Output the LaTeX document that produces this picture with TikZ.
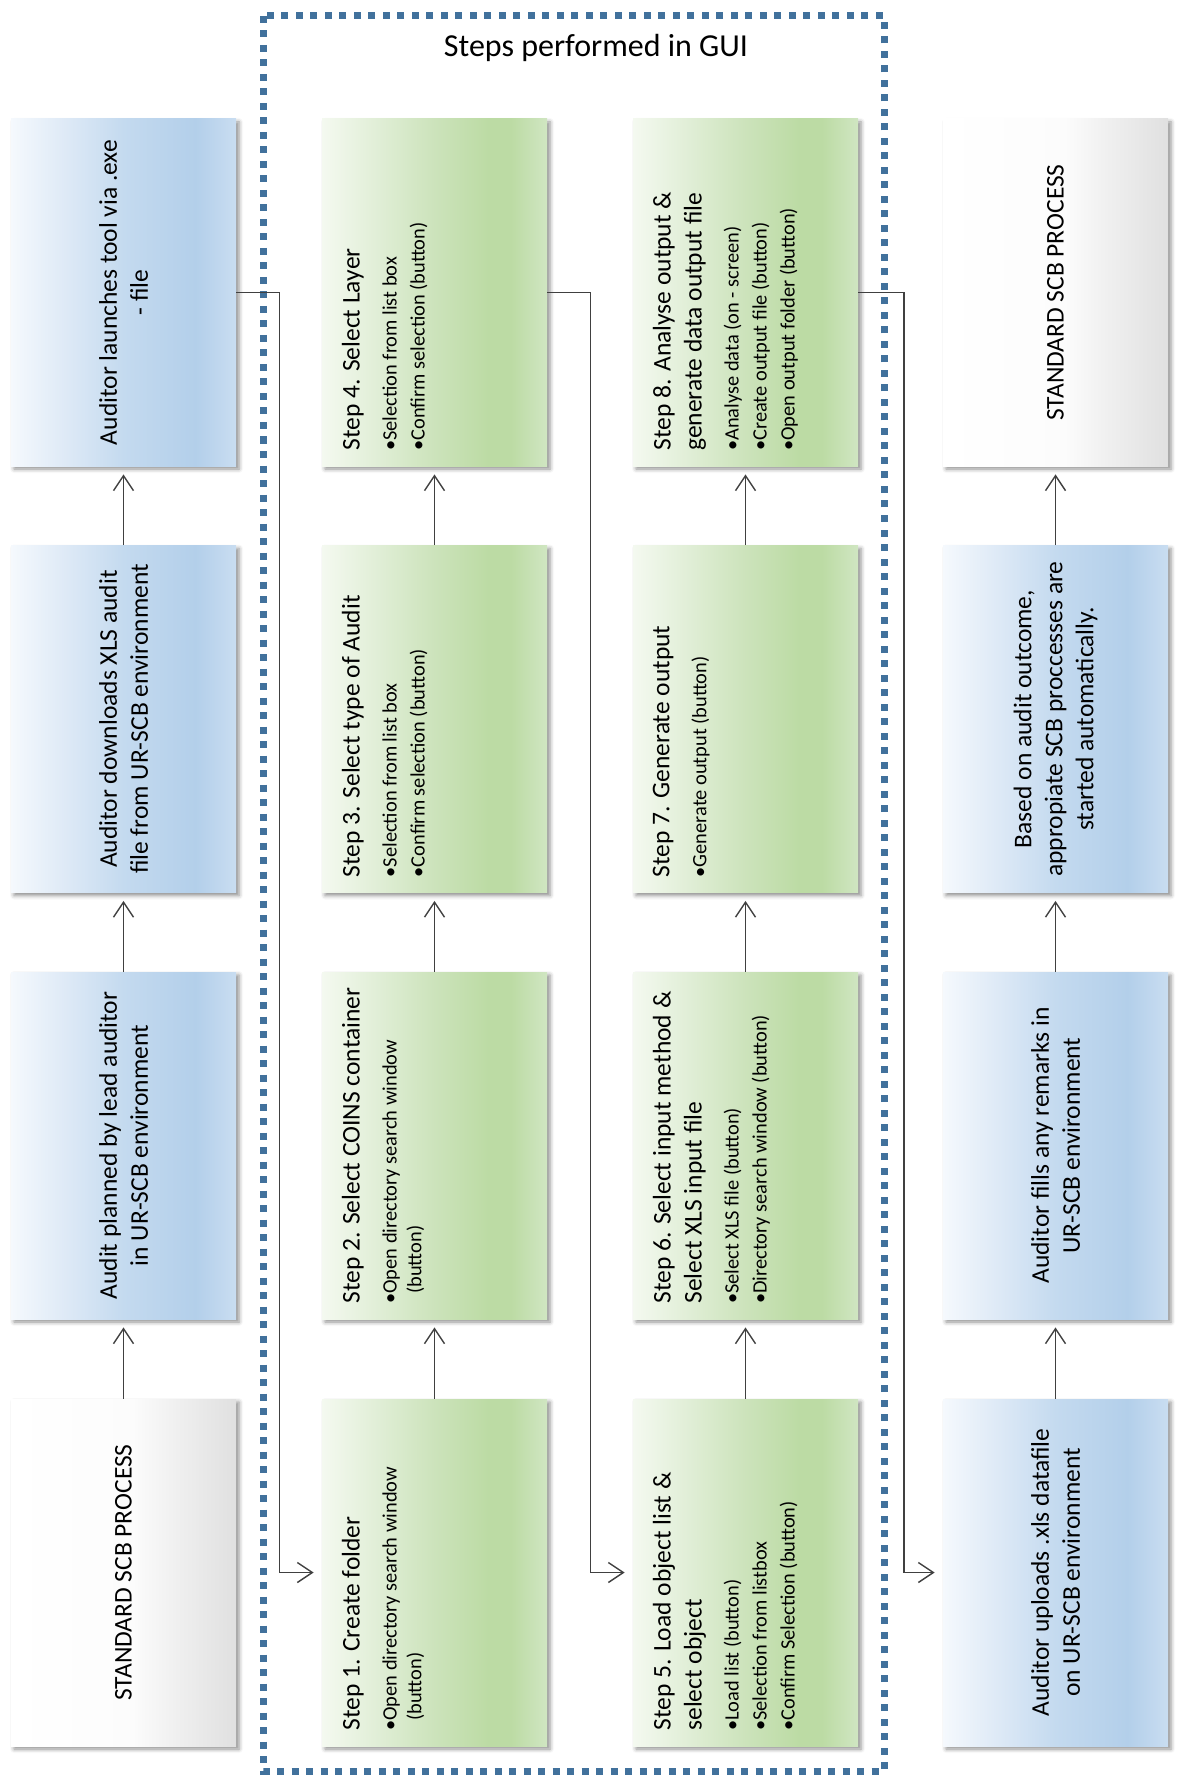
\documentclass[tikz,border=0pt]{standalone}
\usepackage{fontspec}
\setmainfont{Carlito}
\usetikzlibrary{arrows.meta,shadows.blur}
\newlength{\px}\setlength{\px}{0.5pt}
\definecolor{bA}{HTML}{F5F9FD}
\definecolor{bB}{HTML}{DDE9F6}
\definecolor{bC}{HTML}{C4DAEF}
\definecolor{bD}{HTML}{B3CFEA}
\definecolor{bE}{HTML}{C9DDF1}
\definecolor{gA}{HTML}{F4F9F0}
\definecolor{gB}{HTML}{E0EED6}
\definecolor{gC}{HTML}{CCE3BB}
\definecolor{gD}{HTML}{BCDBA4}
\definecolor{gE}{HTML}{D0E6C2}
\definecolor{yA}{HTML}{FFFFFF}
\definecolor{yB}{HTML}{FCFCFC}
\definecolor{yC}{HTML}{EFEFEF}
\definecolor{yD}{HTML}{E0E0E0}
\definecolor{frameblue}{HTML}{41719C}
\definecolor{linegray}{HTML}{404040}
\pgfdeclarehorizontalshading{blueshade}{100bp}{color(0bp)=(bA); color(25bp)=(bA); color(37.5bp)=(bB); color(50bp)=(bC); color(66bp)=(bD); color(75bp)=(bE); color(100bp)=(bE)}
\pgfdeclarehorizontalshading{greenshade}{100bp}{color(0bp)=(gA); color(25bp)=(gA); color(37.5bp)=(gB); color(50bp)=(gC); color(62bp)=(gD); color(67bp)=(gD); color(75bp)=(gE); color(100bp)=(gE)}
\pgfdeclarehorizontalshading{grayshade}{100bp}{color(0bp)=(yA); color(25bp)=(yA); color(52bp)=(yB); color(62bp)=(yC); color(75bp)=(yD); color(100bp)=(yD)}
\newcommand{\bfs}{\fontsize{10.2pt}{12.4pt}\selectfont}
\newcommand{\bul}[1]{{\bfs\makebox[10\px][l]{\textbullet}#1}}
\newcommand{\cont}[1]{{\bfs\hspace*{10\px}#1}}
\begin{document}
\begin{tikzpicture}[x=0.5pt, y=-0.5pt,
  box/.style={minimum width=112.5pt, minimum height=173.5pt, inner sep=0pt, shade,
    blur shadow={shadow xshift=1.5pt, shadow yshift=-1.5pt, shadow blur radius=2pt, shadow opacity=45}},
  bluebox/.style={box, shading=blueshade},
  greenbox/.style={box, shading=greenshade},
  graybox/.style={box, shading=grayshade},
  headfont/.style={font=\fontsize{12.75pt}{15.5pt}\selectfont},
  centertext/.style={headfont, rotate=90, inner sep=0pt, align=center, text=black},
  steptext/.style={headfont, rotate=90, inner sep=0pt, align=left, anchor=north west, text=black},
  conn/.style={draw=linegray, line width=0.7pt},
  arr/.style={conn, -{Straight Barb[length=7.5pt,width=10pt]}, shorten >=4pt},
  guiframe/.style={draw=frameblue, line width=3.5pt, dash pattern=on 3.5pt off 3.75pt}
]
\useasboundingbox (0,0) rectangle (1192,1775);

% GUI frame
\draw[guiframe] (263,16) rectangle (884,1771);
\node[anchor=base, font=\fontsize{16pt}{19pt}\selectfont] (title) at (596,56.7) {Steps performed in GUI};

% column 1
\node[bluebox] (c1r1) at (123.5,292.5) {};
\node[bluebox] (c1r2) at (123.5,719) {};
\node[bluebox] (c1r3) at (123.5,1145.5) {};
\node[graybox] (c1r4) at (123.5,1572.5) {};
% column 2
\node[greenbox] (c2r1) at (434.5,292.5) {};
\node[greenbox] (c2r2) at (434.5,719) {};
\node[greenbox] (c2r3) at (434.5,1145.5) {};
\node[greenbox] (c2r4) at (434.5,1572.5) {};
% column 3
\node[greenbox] (c3r1) at (745.5,292.5) {};
\node[greenbox] (c3r2) at (745.5,719) {};
\node[greenbox] (c3r3) at (745.5,1145.5) {};
\node[greenbox] (c3r4) at (745.5,1572.5) {};
% column 4
\node[graybox] (c4r1) at (1055.5,292.5) {};
\node[bluebox] (c4r2) at (1055.5,719) {};
\node[bluebox] (c4r3) at (1055.5,1145.5) {};
\node[bluebox] (c4r4) at (1055.5,1572.5) {};

% texts column 1
\node[centertext] (t1r1) at (c1r1.center) {Auditor launches tool via .exe\\- file};
\node[centertext] (t1r2) at (c1r2.center) {Auditor downloads XLS audit\\file from UR-SCB environment};
\node[centertext] (t1r3) at (c1r3.center) {Audit planned by lead auditor\\in UR-SCB environment};
\node[centertext] (t1r4) at (c1r4.center) {STANDARD SCB PROCESS};
% texts column 4
\node[centertext] (t4r1) at (c4r1.center) {STANDARD SCB PROCESS};
\node[centertext] (t4r2) at (c4r2.center) {Based on audit outcome,\\appropiate SCB proccesses are\\started automatically.};
\node[centertext] (t4r3) at (c4r3.center) {Auditor fills any remarks in\\UR-SCB environment};
\node[centertext] (t4r4) at (c4r4.center) {Auditor uploads .xls datafile\\on UR-SCB environment};
% texts column 2
\node[steptext] (t2r1) at (341.5,451) {Step 4. Select Layer\\[3pt]\bul{Selection from list box}\\[-1.5pt]\bul{Confirm selection (button)}};
\node[steptext] (t2r2) at (341.5,877.5) {Step 3. Select type of Audit\\[3pt]\bul{Selection from list box}\\[-1.5pt]\bul{Confirm selection (button)}};
\node[steptext] (t2r3) at (341.5,1304) {Step 2. Select COINS container\\[3pt]\bul{Open directory search window}\\[-3.1pt]\cont{(button)}};
\node[steptext] (t2r4) at (341.5,1731) {Step 1. Create folder\\[3pt]\bul{Open directory search window}\\[-3.1pt]\cont{(button)}};
% texts column 3
\node[steptext] (t3r1) at (652.5,451) {Step 8. Analyse output \&\\generate data output file\\[3pt]\bul{Analyse data (on - screen)}\\[-1.5pt]\bul{Create output file (button)}\\[-1.5pt]\bul{Open output folder (button)}};
\node[steptext] (t3r2) at (652.5,877.5) {Step 7. Generate output\\[3pt]\bul{Generate output (button)}};
\node[steptext] (t3r3) at (652.5,1304) {Step 6. Select input method \&\\Select XLS input file\\[3pt]\bul{Select XLS file (button)}\\[-1.5pt]\bul{Directory search window (button)}};
\node[steptext] (t3r4) at (652.5,1731) {Step 5. Load object list \&\\select object\\[3pt]\bul{Load list (button)}\\[-1.5pt]\bul{Selection from listbox}\\[-1.5pt]\bul{Confirm Selection (button)}};

% vertical arrows
\foreach \c in {1,2,3,4}{
  \draw[arr] (c\c r4.north) -- (c\c r3.south);
  \draw[arr] (c\c r3.north) -- (c\c r2.south);
  \draw[arr] (c\c r2.north) -- (c\c r1.south);
}
% column-to-column connectors
\coordinate (e1) at (279.5,292.5);
\coordinate (e2) at (590.5,292.5);
\coordinate (e3) at (904,292.5);
\draw[arr] (c1r1.east) -- (e1) |- (c2r4.west);
\draw[arr] (c2r1.east) -- (e2) |- (c3r4.west);
\draw[arr] (c3r1.east) -- (e3) |- (c4r4.west);
\end{tikzpicture}
\end{document}
